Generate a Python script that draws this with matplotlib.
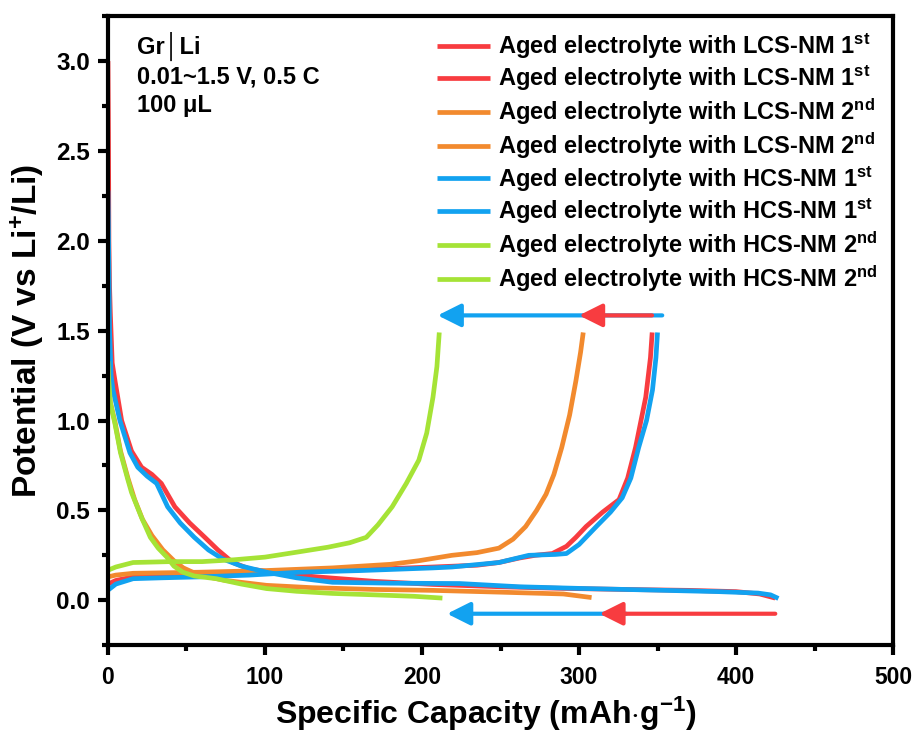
import matplotlib
matplotlib.use('Agg')
import matplotlib.pyplot as plt
from matplotlib.ticker import MultipleLocator

plt.rcParams['font.family'] = ['Liberation Sans', 'DejaVu Sans']
plt.rcParams['font.weight'] = 'bold'
plt.rcParams['mathtext.fontset'] = 'custom'
plt.rcParams['mathtext.rm'] = 'Liberation Sans:bold'
plt.rcParams['mathtext.it'] = 'Liberation Sans:bold'
plt.rcParams['mathtext.bf'] = 'Liberation Sans:bold'

# 颜色
c_red = '#F83C40'
c_orange = '#F28A2E'
c_blue = '#12A2F0'
c_green = '#A5E336'

# LCS-NM 1st 放电 / 充电
lcs1_dis_x = [0, 0.3, 0.6, 1.0, 1.5, 2.7, 4.5, 8.7, 15, 21.4, 28, 34, 42.6, 52, 61.7, 70, 79.5, 90, 105, 133, 170, 207,
              250, 290, 330, 370, 400, 415, 425]
lcs1_dis_v = [3.0, 2.6, 2.0, 1.75, 1.6, 1.32, 1.22, 1.0, 0.83, 0.74, 0.70, 0.65, 0.52, 0.43, 0.35, 0.28, 0.21, 0.175,
              0.155, 0.13, 0.105, 0.088, 0.075, 0.066, 0.06, 0.055, 0.048, 0.035, 0.012]
lcs1_chg_x = [0, 5, 16, 35, 58, 90, 122, 160, 207, 235, 249, 262, 272, 283, 292, 298, 304.5, 315, 325.5, 331, 336,
              342.5, 345.5, 346.6]
lcs1_chg_v = [0.09, 0.11, 0.13, 0.135, 0.14, 0.15, 0.16, 0.17, 0.185, 0.195, 0.21, 0.235, 0.25, 0.26, 0.30, 0.35, 0.41,
              0.49, 0.56, 0.68, 0.85, 1.13, 1.35, 1.49]

# LCS-NM 2nd
lcs2_dis_x = [0, 0.5, 1.5, 4.5, 8, 12.7, 17, 22, 28, 35, 42, 48, 58, 75, 101, 130, 170, 207, 250, 290, 308]
lcs2_dis_v = [1.28, 1.2, 1.1, 0.99, 0.83, 0.68, 0.56, 0.45, 0.36, 0.28, 0.22, 0.18, 0.14, 0.11, 0.083, 0.07, 0.06,
              0.055, 0.045, 0.035, 0.015]
lcs2_chg_x = [0, 5, 16, 58, 100, 143, 180, 198, 219, 235, 249, 258, 266, 273, 279, 284, 289, 294, 298, 301, 302.7]
lcs2_chg_v = [0.13, 0.14, 0.15, 0.156, 0.165, 0.18, 0.2, 0.22, 0.25, 0.265, 0.29, 0.34, 0.41, 0.5, 0.59, 0.7, 0.85,
              1.03, 1.22, 1.38, 1.49]

# HCS-NM 1st
hcs1_dis_x = [0, 0.5, 1.0, 2, 3.2, 7.6, 14, 19, 25, 31, 38, 46, 55, 64, 73, 85, 101, 120, 143, 180, 224, 262, 300,
              340, 389, 414, 422, 427]
hcs1_dis_v = [2.28, 1.9, 1.5, 1.25, 1.17, 1.0, 0.82, 0.74, 0.69, 0.65, 0.52, 0.43, 0.35, 0.28, 0.23, 0.19, 0.156,
              0.125, 0.10, 0.095, 0.093, 0.075, 0.066, 0.058, 0.048, 0.04, 0.03, 0.01]
hcs1_chg_x = [0, 5, 16, 35, 58, 90, 122, 160, 207, 219, 249, 268, 285, 292, 300, 311, 320, 327.5, 333, 338, 343,
              346.8, 349, 350]
hcs1_chg_v = [0.056, 0.09, 0.12, 0.125, 0.13, 0.14, 0.156, 0.165, 0.18, 0.185, 0.21, 0.25, 0.255, 0.26, 0.31, 0.41,
              0.49, 0.57, 0.68, 0.85, 1.0, 1.17, 1.35, 1.49]

# HCS-NM 2nd
hcs2_dis_x = [0, 0.5, 1.5, 4.5, 8, 12.7, 15, 21.4, 27, 32, 37.5, 42, 47.7, 55, 69, 85, 101, 120, 143, 170, 195, 213]
hcs2_dis_v = [1.33, 1.22, 1.1, 0.98, 0.82, 0.67, 0.6, 0.46, 0.35, 0.29, 0.24, 0.19, 0.156, 0.135, 0.12, 0.09, 0.065,
              0.05, 0.038, 0.03, 0.022, 0.012]
hcs2_chg_x = [0, 5, 16, 40, 60, 80, 100, 122, 140, 154, 164.5, 172, 181, 190, 198, 203, 207, 209.5, 211]
hcs2_chg_v = [0.167, 0.185, 0.21, 0.215, 0.215, 0.225, 0.24, 0.27, 0.295, 0.32, 0.35, 0.42, 0.52, 0.65, 0.78, 0.93,
              1.13, 1.3, 1.49]

labels = [r'Aged electrolyte with LCS-NM 1$^{\mathrm{st}}$', r'Aged electrolyte with LCS-NM 1$^{\mathrm{st}}$',
          r'Aged electrolyte with LCS-NM 2$^{\mathrm{nd}}$', r'Aged electrolyte with LCS-NM 2$^{\mathrm{nd}}$',
          r'Aged electrolyte with HCS-NM 1$^{\mathrm{st}}$', r'Aged electrolyte with HCS-NM 1$^{\mathrm{st}}$',
          r'Aged electrolyte with HCS-NM 2$^{\mathrm{nd}}$', r'Aged electrolyte with HCS-NM 2$^{\mathrm{nd}}$']

curves = [(lcs1_dis_x, lcs1_dis_v, c_red), (lcs1_chg_x, lcs1_chg_v, c_red),
          (lcs2_dis_x, lcs2_dis_v, c_orange), (lcs2_chg_x, lcs2_chg_v, c_orange),
          (hcs1_dis_x, hcs1_dis_v, c_blue), (hcs1_chg_x, hcs1_chg_v, c_blue),
          (hcs2_dis_x, hcs2_dis_v, c_green), (hcs2_chg_x, hcs2_chg_v, c_green)]

# 箭头 (起点, 终点, 电压)
arrow_top_v = 1.585
arrow_bot_v = -0.075
arrows = [(353, 210, arrow_top_v, c_blue), (346.5, 300, arrow_top_v, c_red),
          (330, 216, arrow_bot_v, c_blue), (425, 313, arrow_bot_v, c_red)]

fig = plt.figure(figsize=(9.15, 7.34), dpi=100)
ax = fig.add_axes([0.118, 0.121, 0.858, 0.857])

for (x, v, c), lab in zip(curves, labels):
    ax.plot(x, v, color=c, lw=3.4, label=lab, solid_capstyle='butt')

for x0, x1, y, c in arrows:
    ax.annotate('', xy=(x1, y), xytext=(x0, y),
                arrowprops=dict(arrowstyle='-|>,head_length=0.7,head_width=0.35', color=c, lw=3,
                                mutation_scale=20, shrinkA=0, shrinkB=0))

ax.set_xlim(0, 500)
ax.set_ylim(-0.25, 3.25)
ax.xaxis.set_major_locator(MultipleLocator(100))
ax.xaxis.set_minor_locator(MultipleLocator(50))
ax.yaxis.set_major_locator(MultipleLocator(0.5))
ax.yaxis.set_minor_locator(MultipleLocator(0.25))
ax.tick_params(which='major', direction='out', length=7, width=3, pad=6)
ax.tick_params(axis='y', labelsize=17.5)
ax.tick_params(axis='x', labelsize=16.5, pad=8)
ax.tick_params(which='minor', direction='out', length=4.5, width=3)
for s in ax.spines.values():
    s.set_linewidth(3)

ax.set_xlabel(r'Specific Capacity (mAh$\cdot$g$^{-1}$)', fontsize=23, fontweight='bold', labelpad=4)
ax.xaxis.label.set_x(0.482)
ax.set_ylabel(r'Potential (V vs Li$^{+}$/Li)', fontsize=24, fontweight='bold', labelpad=7)

ax.text(0.037, 0.975, 'Gr│Li\n0.01~1.5 V, 0.5 C\n100 μL', transform=ax.transAxes, fontsize=17,
        fontweight='bold', va='top', ha='left', linespacing=1.27)

ax.legend(loc='upper right', frameon=False, fontsize=17, handlelength=2.25, handletextpad=0.35,
          labelspacing=0.135, borderaxespad=0.35, borderpad=0.3)

fig.savefig('out.png', dpi=100)
